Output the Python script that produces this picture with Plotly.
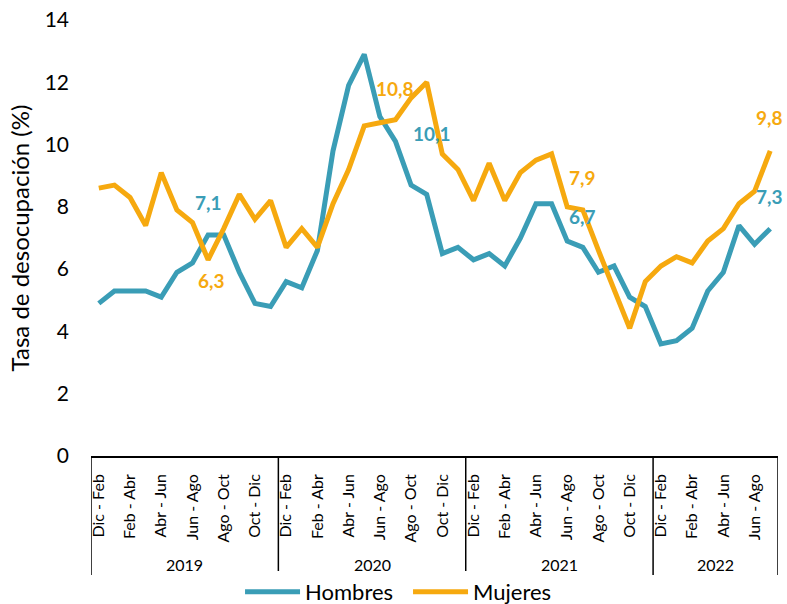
import plotly.graph_objects as go

# ---- data ----
trimestres = ["Dic - Feb", "Ene - Mar", "Feb - Abr", "Mar - May", "Abr - Jun", "May - Jul",
              "Jun - Ago", "Jul - Sep", "Ago - Oct", "Sep - Nov", "Oct - Dic", "Nov - Ene"]
years = ["2019", "2020", "2021", "2022"]
year_counts = [12, 12, 12, 8]

hombres = [4.9, 5.3, 5.3, 5.3, 5.1, 5.9, 6.2, 7.1, 7.1, 5.9, 4.9, 4.8,
           5.6, 5.4, 6.6, 9.8, 11.9, 12.9, 10.9, 10.1, 8.7, 8.4, 6.5, 6.7,
           6.3, 6.5, 6.1, 7.0, 8.1, 8.1, 6.9, 6.7, 5.9, 6.1, 5.1, 4.8,
           3.6, 3.7, 4.1, 5.3, 5.9, 7.4, 6.8, 7.3]
mujeres = [8.6, 8.7, 8.3, 7.4, 9.1, 7.9, 7.5, 6.3, 7.3, 8.4, 7.6, 8.2,
           6.7, 7.3, 6.7, 8.1, 9.2, 10.6, 10.7, 10.8, 11.5, 12.0, 9.7, 9.2,
           8.2, 9.4, 8.2, 9.1, 9.5, 9.7, 8.0, 7.9, 6.6, 5.3, 4.1, 5.6,
           6.1, 6.4, 6.2, 6.9, 7.3, 8.1, 8.5, 9.8]

label_idx = [7, 19, 31, 43]
y_ticks = [0, 2, 4, 6, 8, 10, 12, 14]

# ---- derived ----
periodos = []
for n in year_counts:
    periodos += trimestres[:n]
N = len(periodos)
x = list(range(N))
tickvals = [i for i in x if i % 2 == 0]
ticktext = [periodos[i] for i in tickvals]

BLUE = "#3A9DB6"
ORANGE = "#F6A90F"
FONT = "Lato"

fig = go.Figure()
fig.add_trace(go.Scatter(x=x, y=hombres, mode="lines", name="Hombres",
                         line=dict(color=BLUE, width=5), hoverinfo="skip"))
fig.add_trace(go.Scatter(x=x, y=mujeres, mode="lines", name="Mujeres",
                         line=dict(color=ORANGE, width=5), hoverinfo="skip"))

def fmt(v):
    return f"{v:.1f}".replace(".", ",")

def xpaper(i):
    # position of category i as a fraction of the x axis range [-0.5, N-0.5]
    return (i + 0.5) / N

annotations = []
h_shift = {7: (0, 32), 19: (37, 8), 31: (0, 31), 43: (-1, 32)}
m_shift = {7: (3, -21), 19: (0, 31), 31: (0, 32), 43: (-1, 33)}
for i in label_idx:
    dx, dy = h_shift[i]
    annotations.append(dict(x=xpaper(i), y=hombres[i], xref="paper", yref="y",
                            text=fmt(hombres[i]), xanchor="center", yanchor="middle",
                            showarrow=False, xshift=dx, yshift=dy,
                            font=dict(family=FONT, size=19, color=BLUE, weight="bold")))
    dx, dy = m_shift[i]
    annotations.append(dict(x=xpaper(i), y=mujeres[i], xref="paper", yref="y",
                            text=fmt(mujeres[i]), xanchor="center", yanchor="middle",
                            showarrow=False, xshift=dx, yshift=dy,
                            font=dict(family=FONT, size=19, color=ORANGE, weight="bold")))

shapes = []
start = 0
bounds = [-0.5]
for yr, n in zip(years, year_counts):
    center = start + (n - 1) / 2
    annotations.append(dict(x=center, y=-0.248, xref="x", yref="paper", text=yr,
                            showarrow=False, xanchor="center", yanchor="middle",
                            font=dict(family=FONT, size=16, color="#000000")))
    start += n
    bounds.append(start - 0.5)
for b in bounds:
    shapes.append(dict(type="line", x0=b, x1=b, xref="x", y0=0, y1=-0.273, yref="paper",
                       line=dict(color="#000000", width=1.5)))

fig.update_layout(
    width=787, height=604,
    margin=dict(l=91, r=9, t=20, b=148, autoexpand=False),
    paper_bgcolor="white", plot_bgcolor="white",
    font=dict(family=FONT, color="#000000"),
    showlegend=True,
    legend=dict(orientation="h", x=0.305, xanchor="left", xref="container",
                y=0.02, yanchor="middle", yref="container",
                font=dict(family=FONT, size=22), itemwidth=55, entrywidth=98,
                traceorder="normal"),
    annotations=annotations,
    shapes=shapes,
)
fig.update_xaxes(range=[-0.5, N - 0.5], tickmode="array", tickvals=tickvals,
                 ticktext=ticktext, tickangle=-90, showgrid=False, zeroline=False,
                 showline=True, linecolor="#000000", linewidth=1.5, ticks="",
                 ticklabelstandoff=10,
                 tickfont=dict(family=FONT, size=16, color="#000000"))
fig.update_yaxes(range=[0, 14], tickvals=y_ticks, showgrid=False, zeroline=False,
                 showline=False, ticks="", ticklabelstandoff=21,
                 ticklabeloverflow="allow",
                 tickfont=dict(family=FONT, size=21, color="#000000"),
                 title=dict(text="Tasa de desocupación (%)", standoff=8,
                            font=dict(family=FONT, size=24, color="#000000")))

# remove the browser's default 8px page margin so the figure fills the window
fig.write_html("out.html", config={"displayModeBar": False},
               post_script="document.body.style.margin='0px';")
